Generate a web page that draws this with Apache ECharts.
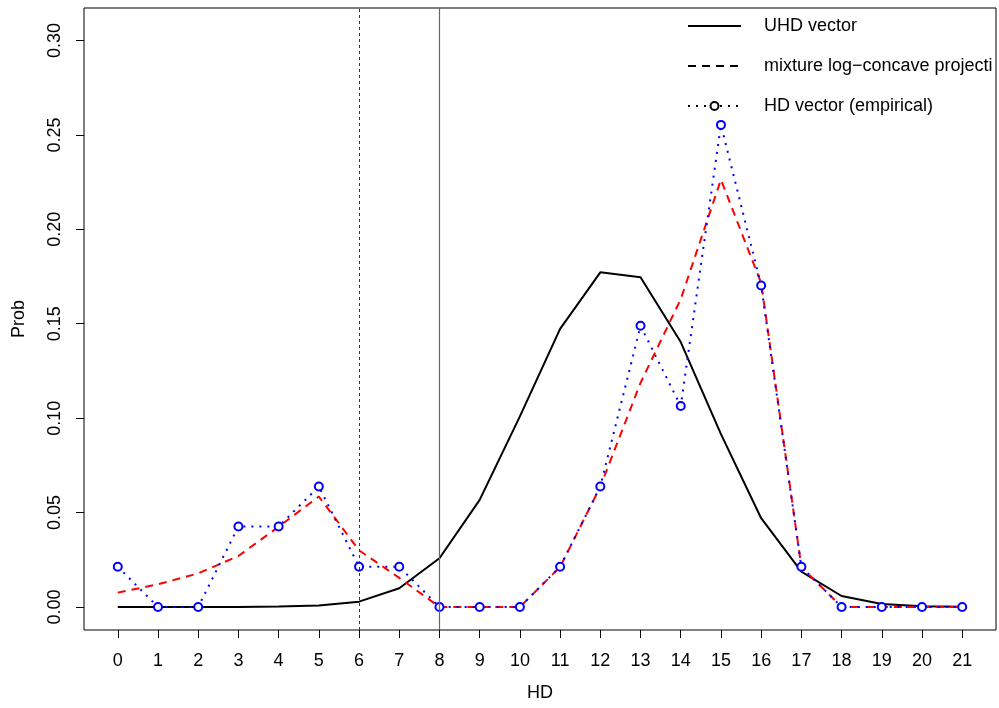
<!DOCTYPE html>
<html>
<head>
<meta charset="utf-8">
<script src="https://cdn.jsdelivr.net/npm/echarts@6/dist/echarts.min.js"></script>
<style>html,body{margin:0;padding:0;background:#fff}#c{width:999px;height:708px}</style>
</head>
<body>
<div id="c"></div>
<script>
const hd = [0,1,2,3,4,5,6,7,8,9,10,11,12,13,14,15,16,17,18,19,20,21];
const uhd = [0,0,0,0,0.0003,0.0008,0.0028,0.0099,0.0258,0.0567,0.1009,0.1473,0.1772,0.1746,0.1403,0.0915,0.0470,0.0187,0.0058,0.0016,0.0004,0.0001];
const mixture = [0.0076,0.0120,0.0178,0.0270,0.0425,0.0585,0.0300,0.0154,0,0,0,0.0212,0.0637,0.1187,0.1630,0.2263,0.1715,0.0212,0,0,0,0];
const empirical = [0.0213,0,0,0.0426,0.0426,0.0638,0.0213,0.0213,0,0,0,0.0213,0.0638,0.1489,0.1064,0.2553,0.1702,0.0213,0,0,0,0];
const yTicks = [0,0.05,0.10,0.15,0.20,0.25,0.30];
const vlines = [6,8];
const legendNames = ['UHD vector','mixture log\u2212concave projection','HD vector (empirical)'];

const font = 'Liberation Sans, Arial, Helvetica, sans-serif';
const pairs = arr => hd.map((x,i)=>[x,arr[i]]);

const chart = echarts.init(document.getElementById('c'), null, {renderer:'canvas'});
chart.setOption({
  animation:false,
  backgroundColor:'#fff',
  grid:{left:84,right:3,top:8,bottom:78,show:true,borderColor:'#000',borderWidth:1,backgroundColor:'transparent'},
  xAxis:{type:'value',min:-0.84,max:21.84,
    name:'HD',nameLocation:'middle',nameGap:54,nameTextStyle:{fontFamily:font,fontSize:18,color:'#000'},
    axisLine:{show:false,onZero:false},splitLine:{show:false},
    axisTick:{show:true,customValues:hd,length:8,lineStyle:{color:'#000',width:1}},
    axisLabel:{customValues:hd,margin:22,fontFamily:font,fontSize:18,color:'#000'}},
  yAxis:{type:'value',min:-0.0122,max:0.3172,
    name:'Prob',nameLocation:'middle',nameGap:56,nameRotate:90,nameTextStyle:{fontFamily:font,fontSize:18,color:'#000'},
    axisLine:{show:false,onZero:false},splitLine:{show:false},
    axisTick:{show:true,customValues:yTicks,length:8,lineStyle:{color:'#000',width:1}},
    axisLabel:{customValues:yTicks,rotate:90,margin:20,fontFamily:font,fontSize:18,color:'#000',formatter:v=>v.toFixed(2)}},
  legend:{orient:'vertical',left:687,top:16,padding:0,itemWidth:53,itemHeight:10,itemGap:20,
    data:legendNames,selectedMode:false,
    textStyle:{fontFamily:font,fontSize:18,color:'#000',lineHeight:20,padding:[0,0,0,18],width:236,overflow:'truncate',ellipsis:''}},
  series:[
    {name:'uhd',type:'line',data:pairs(uhd),symbol:'none',lineStyle:{color:'#000',width:2},z:2,
     markLine:{symbol:'none',silent:true,label:{show:false},animation:false,
       data:[{xAxis:vlines[0],lineStyle:{type:[3,3],color:'#333',width:1}},{xAxis:vlines[1],lineStyle:{type:'solid',color:'#666',width:1.2}}]}},
    {name:'mix',type:'line',data:pairs(mixture),symbol:'none',lineStyle:{color:'#ff0000',width:2,type:[8,6]},z:3},
    {name:'emp',type:'line',data:pairs(empirical),symbol:'emptyCircle',symbolSize:8,
     itemStyle:{color:'#0000ff',borderColor:'#0000ff',borderWidth:2},lineStyle:{color:'#0000ff',width:2,type:[2,6]},z:4},
    {name:legendNames[0],type:'line',data:[],symbol:'none',symbolSize:0,itemStyle:{color:'#000',opacity:0},lineStyle:{color:'#000',width:2,opacity:1}},
    {name:legendNames[1],type:'line',data:[],symbol:'none',symbolSize:0,itemStyle:{color:'#000',opacity:0},lineStyle:{color:'#000',width:2,type:[8,6],opacity:1}},
    {name:legendNames[2],type:'line',data:[],symbol:'emptyCircle',symbolSize:8,itemStyle:{color:'#000',borderColor:'#000',borderWidth:2},lineStyle:{color:'#000',width:2,type:[2,6]}}
  ]
});
</script>
</body>
</html>
